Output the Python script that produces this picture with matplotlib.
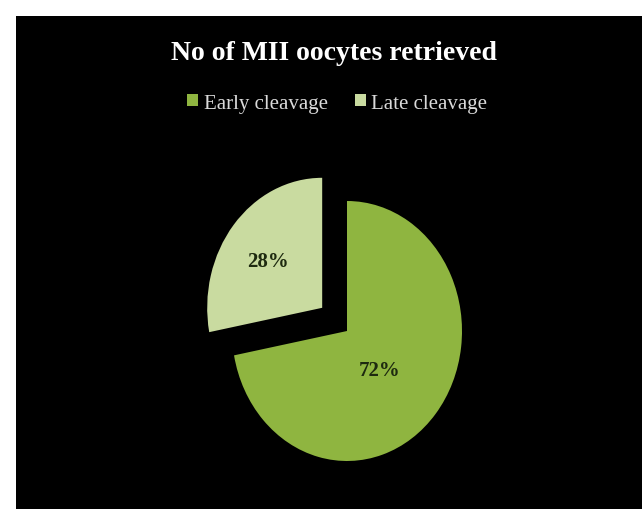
import matplotlib.pyplot as plt
from matplotlib.patches import Rectangle

# data
labels = ["Early cleavage", "Late cleavage"]
values = [72, 28]
colors = ["#8FB540", "#C9DBA0"]
explode = [0, 0.28]

W, H = 642, 510
fig = plt.figure(figsize=(W / 100, H / 100), dpi=100)
fig.patch.set_facecolor("white")
# black slide background with white margin at left/top
fig.add_artist(Rectangle((16 / W, 0), 1 - 16 / W, 1 - 17 / H,
                         transform=fig.transFigure, facecolor="black",
                         edgecolor="none", zorder=0))

# pie axes (elliptical pie: rx=115 px, ry=130 px, centre at 347,332)
cx, cy = 347, H - 332
rx, ry = 115, 130
aw, ah = 340, 360
ax = fig.add_axes([(cx - aw / 2) / W, (cy - ah / 2) / H, aw / W, ah / H])
ax.set_facecolor("none")

wedges, texts, autotexts = ax.pie(
    values, colors=colors, explode=explode, startangle=90,
    counterclock=False, autopct="%d%%", pctdistance=0.5,
    wedgeprops=dict(linewidth=0),
    textprops=dict(family="Liberation Serif", fontweight="bold",
                   fontsize=15, color="#1E2A10"))
ax.set_aspect("auto")
ax.set_xlim(-aw / 2 / rx, aw / 2 / rx)
ax.set_ylim(-ah / 2 / ry, ah / 2 / ry)
ax.axis("off")

# nudge percentage labels
autotexts[0].set_position((0.28, -0.30))
autotexts[1].set_position((-0.69, 0.54))

fig.text(0.520, 0.896, "No of MII oocytes retrieved", ha="center",
         va="center", family="Liberation Serif", fontweight="bold",
         fontsize=20, color="white")

leg = fig.legend(wedges, labels, loc="center", bbox_to_anchor=(0.525, 0.796),
                 ncol=2, frameon=False, handlelength=0.55, handleheight=0.55,
                 handletextpad=0.25, columnspacing=1.3,
                 prop=dict(family="Liberation Serif", size=15))
for t in leg.get_texts():
    t.set_color("#DADADA")

fig.savefig("out.png", dpi=100, facecolor=fig.get_facecolor())
